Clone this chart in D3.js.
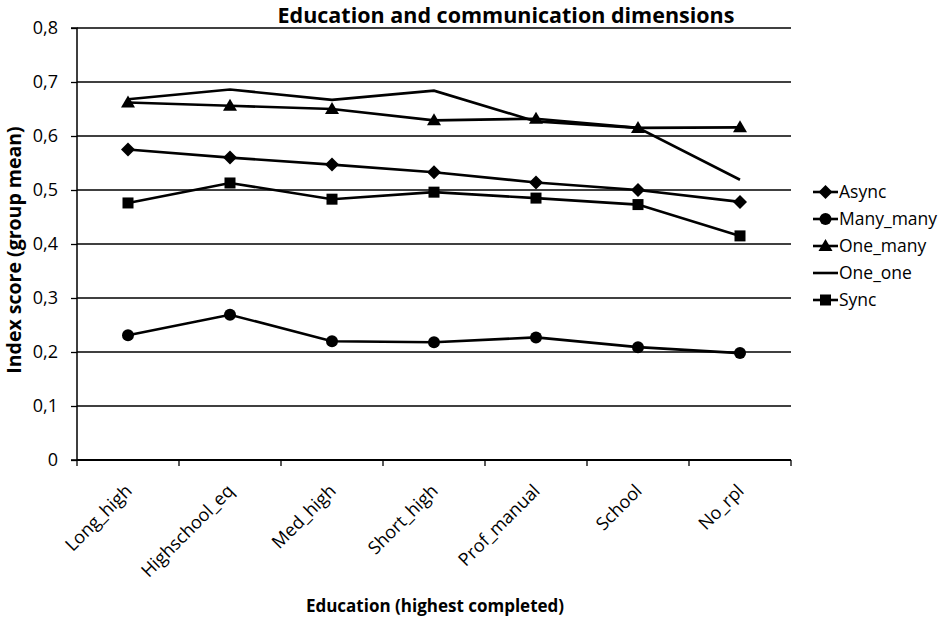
<!DOCTYPE html>
<html>
<head>
<meta charset="utf-8">
<script src="https://cdn.jsdelivr.net/npm/d3@7"></script>
<style>
  body { margin: 0; background: #fff; }
  svg { display: block; font-family: "Open Sans", Lato, sans-serif; }
</style>
</head>
<body>
<svg id="chart" width="948" height="622"></svg>
<script>
const categories = ["Long_high", "Highschool_eq", "Med_high", "Short_high", "Prof_manual", "School", "No_rpl"];
const asyncVals    = [0.575, 0.560, 0.547, 0.533, 0.514, 0.500, 0.478];
const manyManyVals = [0.231, 0.269, 0.220, 0.218, 0.227, 0.209, 0.198];
const oneManyVals  = [0.662, 0.656, 0.650, 0.629, 0.632, 0.615, 0.616];
const oneOneVals   = [0.668, 0.686, 0.667, 0.684, 0.627, 0.615, 0.519];
const syncVals     = [0.476, 0.513, 0.483, 0.496, 0.485, 0.473, 0.415];
const seriesNames  = ["Async", "Many_many", "One_many", "One_one", "Sync"];
const yTicks = [0, 0.1, 0.2, 0.3, 0.4, 0.5, 0.6, 0.7, 0.8];
const title = "Education and communication dimensions";
const xTitle = "Education (highest completed)";
const yTitle = "Index score (group mean)";

const series = [
  { name: seriesNames[0], values: asyncVals, marker: "diamond" },
  { name: seriesNames[1], values: manyManyVals, marker: "circle" },
  { name: seriesNames[2], values: oneManyVals, marker: "triangle" },
  { name: seriesNames[3], values: oneOneVals, marker: "none" },
  { name: seriesNames[4], values: syncVals, marker: "square" }
];

const svg = d3.select("#chart");
const m = { left: 77, right: 791, top: 28, bottom: 460 };

const x = d3.scaleBand().domain(categories).range([m.left, m.right]);
const y = d3.scaleLinear().domain([0, 0.8]).range([m.bottom, m.top]);

// gridlines
svg.append("g").selectAll("line").data(yTicks.filter(d => d > 0)).join("line")
  .attr("x1", m.left).attr("x2", m.right)
  .attr("y1", d => y(d)).attr("y2", d => y(d))
  .attr("stroke", "#000").attr("stroke-width", 1.3);

// y axis
const yAxis = svg.append("g").attr("transform", `translate(${m.left},0)`)
  .call(d3.axisLeft(y).tickValues(yTicks).tickSize(6).tickPadding(13)
    .tickFormat(d => d === 0 ? "0" : d3.format(".1f")(d).replace(".", ",")));
yAxis.select(".domain").attr("stroke-width", 1.5).attr("d", `M-6,${y(0)}H0V${y(0.8)}H-6`);
yAxis.selectAll(".tick line").attr("stroke-width", 1.3);
yAxis.selectAll("text").attr("font-size", 18).attr("fill", "#000").style("font-family", "'Open Sans', sans-serif");

// x axis with ticks at category boundaries
const xg = svg.append("g").attr("transform", `translate(0,${m.bottom})`);
xg.append("line").attr("x1", m.left).attr("x2", m.right).attr("y1", 0).attr("y2", 0)
  .attr("stroke", "#000").attr("stroke-width", 1.8);
const bounds = categories.map(c => x(c)).concat([x(categories[categories.length - 1]) + x.bandwidth()]);
xg.selectAll("line.tk").data(bounds).join("line").attr("class", "tk")
  .attr("x1", d => d).attr("x2", d => d).attr("y1", 0).attr("y2", 6)
  .attr("stroke", "#000").attr("stroke-width", 1.3);
xg.selectAll("text").data(categories).join("text")
  .attr("transform", d => `translate(${x(d) + x.bandwidth() / 2 + 5},${32}) rotate(-45)`)
  .attr("text-anchor", "end")
  .attr("font-size", 18)
  .text(d => d);

const cx = d => x(d) + x.bandwidth() / 2;
const line = d3.line().x((v, i) => cx(categories[i])).y(v => y(v));

function drawMarker(g, type, px, py) {
  if (type === "diamond") {
    g.append("path").attr("d", `M${px},${py - 7}L${px + 7},${py}L${px},${py + 7}L${px - 7},${py}Z`).attr("fill", "#000");
  } else if (type === "circle") {
    g.append("circle").attr("cx", px).attr("cy", py).attr("r", 6).attr("fill", "#000");
  } else if (type === "triangle") {
    g.append("path").attr("d", `M${px},${py - 7}L${px + 7},${py + 5}L${px - 7},${py + 5}Z`).attr("fill", "#000");
  } else if (type === "square") {
    g.append("rect").attr("x", px - 5.5).attr("y", py - 5.5).attr("width", 11).attr("height", 11).attr("fill", "#000");
  }
}

series.forEach(s => {
  const g = svg.append("g");
  g.append("path").datum(s.values).attr("d", line)
    .attr("fill", "none").attr("stroke", "#000").attr("stroke-width", 2.6);
  s.values.forEach((v, i) => drawMarker(g, s.marker, cx(categories[i]), y(v)));
});

// legend
const leg = svg.append("g");
series.forEach((s, i) => {
  const ly = 192 + i * 27;
  leg.append("line").attr("x1", 813).attr("x2", 838).attr("y1", ly).attr("y2", ly)
    .attr("stroke", "#000").attr("stroke-width", 2.6);
  drawMarker(leg, s.marker, 825.5, ly);
  leg.append("text").attr("x", 839).attr("y", ly + 6).attr("font-size", 17.5).text(s.name);
});

// titles
svg.append("text").attr("x", 506).attr("y", 23).attr("text-anchor", "middle")
  .attr("font-size", 21.5).attr("font-weight", "bold").text(title);
svg.append("text").attr("x", 435).attr("y", 612).attr("text-anchor", "middle")
  .attr("font-size", 17).attr("font-weight", "bold").text(xTitle);
svg.append("text").attr("transform", `translate(21,250) rotate(-90)`).attr("text-anchor", "middle")
  .attr("font-size", 19.5).attr("font-weight", "bold").text(yTitle);
</script>
</body>
</html>
